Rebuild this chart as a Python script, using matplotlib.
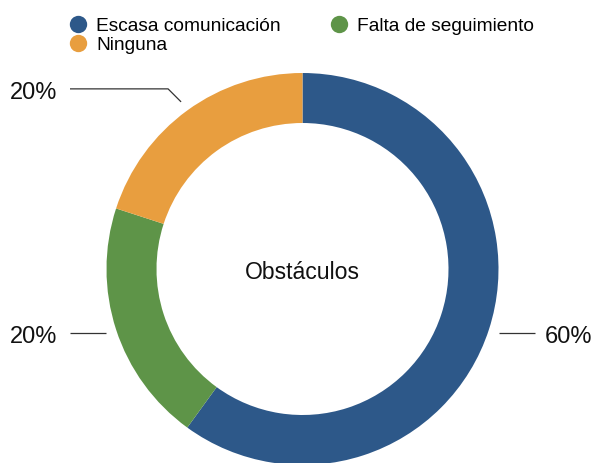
import numpy as np
import matplotlib
matplotlib.use("Agg")
import matplotlib.pyplot as plt
from matplotlib.lines import Line2D

# ---- data ----
categories = ["Escasa comunicación", "Falta de seguimiento", "Ninguna"]
values = [60, 20, 20]
pct_labels = ["60%", "20%", "20%"]
colors = ["#2D5889", "#5E9448", "#E89E3F"]
center_title = "Obstáculos"

plt.rcParams['font.family'] = ['Liberation Sans', 'DejaVu Sans']

W, H = 591, 464
fig = plt.figure(figsize=(W / 100, H / 100), dpi=100)
ax = fig.add_axes([0, 0, 1, 1])

cx, cy = 302.5, H - 270.0
R = 196.0
ring = 50.0

wedges, _ = ax.pie(values, colors=colors, startangle=90, counterclock=False,
                   radius=R, center=(cx, cy),
                   wedgeprops=dict(width=ring, edgecolor='none', linewidth=0))
ax.set_xlim(0, W)
ax.set_ylim(0, H)
ax.set_aspect('equal')
ax.axis('off')

# leader lines and percentage labels
r1 = R * 1.054
rise = [0, 0, 13]
line_reach = 232.5
for w, lab, dy in zip(wedges, pct_labels, rise):
    th = np.deg2rad((w.theta1 + w.theta2) / 2)
    x0 = cx + r1 * np.cos(th)
    y0 = cy + r1 * np.sin(th)
    side = 1 if np.cos(th) > 0 else -1
    ye = y0 + dy
    xe = x0 + side * dy
    xend = cx + side * line_reach
    ax.plot([x0, xe, xend], [y0, ye, ye], color='#333333', lw=0.9,
            solid_capstyle='butt')
    tx = xend + side * (10 if side > 0 else 13)
    ax.text(tx, ye - 0.5, lab, ha='left' if side > 0 else 'right',
            va='center_baseline', fontsize=17, color='#111111')

ax.text(cx, cy, center_title, ha='center', va='center_baseline',
        fontsize=16.6, color='#111111')

# legend (row-major order: Escasa, Falta / Ninguna)
handles = [Line2D([], [], marker='o', linestyle='none', markersize=12.5,
                  markerfacecolor=c, markeredgecolor='none') for c in colors]
order = [0, 2, 1]
leg = fig.legend([handles[i] for i in order], [categories[i] for i in order],
                 ncol=2, loc='upper left', bbox_to_anchor=(70 / W, 1 - 18 / H),
                 frameon=False, fontsize=13.8, handlelength=0.82,
                 handletextpad=0.56, columnspacing=2.6, labelspacing=0.08,
                 borderpad=0, borderaxespad=0)

fig.savefig("out.png", dpi=100)
